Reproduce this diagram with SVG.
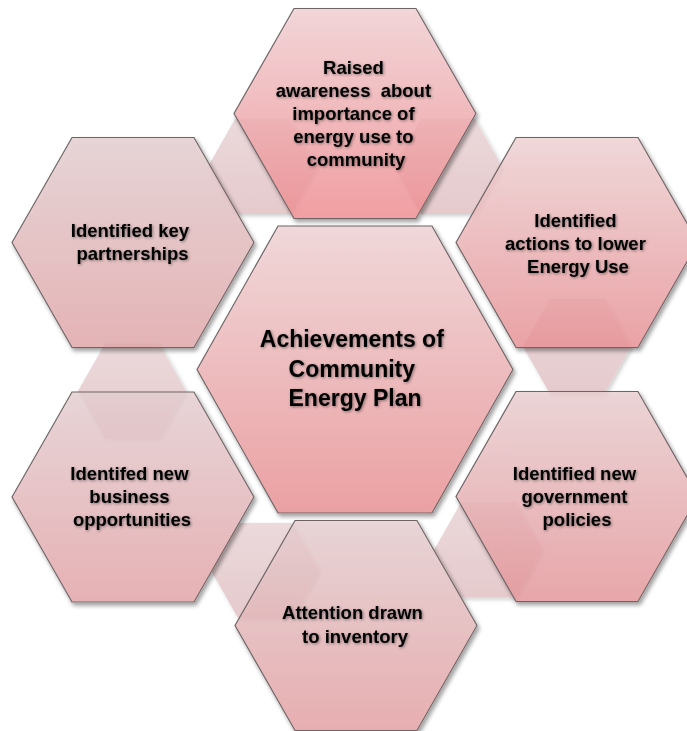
<svg xmlns="http://www.w3.org/2000/svg" xmlns:xlink="http://www.w3.org/1999/xlink" width="687" height="731" viewBox="0 0 687 731">
  <style>
    .hex { stroke: #6f6465; stroke-width: 1.2; fill-opacity: 0.82; filter: url(#hexShadow); }
    .link { fill: url(#gLink); filter: url(#linkShadow); }
    .lbl { font-family: "Liberation Sans", Arial, sans-serif; font-weight: bold; fill: #000; text-anchor: middle; filter: url(#txtGlow); }
    .outer { font-size: 18.5px; }
    .main { font-size: 23px; }
  </style>
  <defs>
    <!-- outer hexagon, centred on 0,0 -->
    <polygon id="hexL" points="-121,0 -61,-105 61,-105 121,0 61,105 -61,105"/>
    <!-- small linking hexagon -->
    <polygon id="hexS" points="-54,0 -27,-47.5 27,-47.5 54,0 27,47.5 -27,47.5"/>

    <linearGradient id="gCenter" x1="0" y1="0" x2="0" y2="1">
      <stop offset="0" stop-color="#eed1d3"/><stop offset="1" stop-color="#e98e91"/>
    </linearGradient>
    <linearGradient id="gTop" x1="0" y1="0" x2="0" y2="1">
      <stop offset="0" stop-color="#f0ced1"/><stop offset="1" stop-color="#ee8c90"/>
    </linearGradient>
    <linearGradient id="gTR" x1="0" y1="0" x2="0" y2="1">
      <stop offset="0" stop-color="#eed1d3"/><stop offset="1" stop-color="#e89094"/>
    </linearGradient>
    <linearGradient id="gBR" x1="0" y1="0" x2="0" y2="1">
      <stop offset="0" stop-color="#e9cdcf"/><stop offset="1" stop-color="#e59599"/>
    </linearGradient>
    <linearGradient id="gB" x1="0" y1="0" x2="0" y2="1">
      <stop offset="0" stop-color="#e4cdcf"/><stop offset="1" stop-color="#e49fa2"/>
    </linearGradient>
    <linearGradient id="gBL" x1="0" y1="0" x2="0" y2="1">
      <stop offset="0" stop-color="#e4ced1"/><stop offset="1" stop-color="#e3a2a6"/>
    </linearGradient>
    <linearGradient id="gTL" x1="0" y1="0" x2="0" y2="1">
      <stop offset="0" stop-color="#e3cdcf"/><stop offset="1" stop-color="#dfa5a8"/>
    </linearGradient>
    <linearGradient id="gLink" x1="0" y1="0" x2="0" y2="1">
      <stop offset="0" stop-color="#ebd9db"/><stop offset="1" stop-color="#e5cacc"/>
    </linearGradient>

    <!-- drop shadow kept outside the shape so translucent fills stay clean -->
    <filter id="hexShadow" x="-10%" y="-10%" width="125%" height="125%">
      <feGaussianBlur in="SourceAlpha" stdDeviation="2"/>
      <feOffset dx="2" dy="3" result="blur"/>
      <feComponentTransfer in="blur" result="soft"><feFuncA type="linear" slope="0.45"/></feComponentTransfer>
      <feComposite in="soft" in2="SourceAlpha" operator="out" result="outside"/>
      <feMerge><feMergeNode in="outside"/><feMergeNode in="SourceGraphic"/></feMerge>
    </filter>
    <filter id="linkShadow" x="-15%" y="-15%" width="135%" height="135%">
      <feGaussianBlur in="SourceAlpha" stdDeviation="2"/>
      <feOffset dx="1.5" dy="2" result="blur"/>
      <feComponentTransfer in="blur" result="soft"><feFuncA type="linear" slope="0.2"/></feComponentTransfer>
      <feMerge><feMergeNode in="soft"/><feMergeNode in="SourceGraphic"/></feMerge>
    </filter>
    <filter id="txtGlow" x="-10%" y="-40%" width="120%" height="180%">
      <feGaussianBlur in="SourceAlpha" stdDeviation="1.5"/>
      <feOffset dx="0.8" dy="1"/>
      <feComponentTransfer><feFuncA type="linear" slope="0.45"/></feComponentTransfer>
      <feMerge><feMergeNode/><feMergeNode in="SourceGraphic"/></feMerge>
    </filter>
  </defs>

  <rect width="687" height="731" fill="#ffffff"/>

  <!-- small hexagons linking neighbouring outer hexagons -->
  <g id="connectors">
    <use xlink:href="#hexS" class="link" x="262" y="166.5"/>
    <use xlink:href="#hexS" class="link" x="448" y="166.5"/>
    <use xlink:href="#hexS" class="link" x="577" y="346.5"/>
    <use xlink:href="#hexS" class="link" x="488" y="550"/>
    <use xlink:href="#hexS" class="link" x="265" y="570.5"/>
    <use xlink:href="#hexS" class="link" x="132" y="391"/>
  </g>

  <g id="node-center">
    <polygon class="hex" fill="url(#gCenter)" points="197,369.5 278,226 432,226 513,369.5 432,513 278,513"/>
    <text class="lbl main">
      <tspan x="355" y="347">Achievements of</tspan>
      <tspan x="355" y="376.5">Community</tspan>
      <tspan x="355" y="405.5">Energy Plan</tspan>
    </text>
  </g>

  <g id="node-top">
    <use xlink:href="#hexL" class="hex" fill="url(#gTop)" x="355" y="113.5"/>
    <text class="lbl outer">
      <tspan x="356" y="74">Raised</tspan>
      <tspan x="356" y="97">awareness&#160; about</tspan>
      <tspan x="356" y="120">importance of</tspan>
      <tspan x="356" y="143">energy use to</tspan>
      <tspan x="356" y="166">community</tspan>
    </text>
  </g>

  <g id="node-top-right">
    <use xlink:href="#hexL" class="hex" fill="url(#gTR)" x="577" y="242.5"/>
    <text class="lbl outer">
      <tspan x="578" y="226.5">Identified</tspan>
      <tspan x="578" y="249.5">actions to lower</tspan>
      <tspan x="578" y="272.5">Energy Use</tspan>
    </text>
  </g>

  <g id="node-bottom-right">
    <use xlink:href="#hexL" class="hex" fill="url(#gBR)" x="577" y="496.5"/>
    <text class="lbl outer">
      <tspan x="577" y="480">Identified new</tspan>
      <tspan x="577" y="503">government</tspan>
      <tspan x="577" y="526">policies</tspan>
    </text>
  </g>

  <g id="node-bottom">
    <use xlink:href="#hexL" class="hex" fill="url(#gB)" x="356" y="625.5"/>
    <text class="lbl outer">
      <tspan x="355" y="619">Attention drawn</tspan>
      <tspan x="355" y="642.5">to inventory</tspan>
    </text>
  </g>

  <g id="node-bottom-left">
    <use xlink:href="#hexL" class="hex" fill="url(#gBL)" x="133" y="497"/>
    <text class="lbl outer">
      <tspan x="132" y="480">Identifed new</tspan>
      <tspan x="132" y="503">business</tspan>
      <tspan x="132" y="526">opportunities</tspan>
    </text>
  </g>

  <g id="node-top-left">
    <use xlink:href="#hexL" class="hex" fill="url(#gTL)" x="133" y="242.5"/>
    <text class="lbl outer">
      <tspan x="132.5" y="237">Identified key</tspan>
      <tspan x="132.5" y="260">partnerships</tspan>
    </text>
  </g>
</svg>
